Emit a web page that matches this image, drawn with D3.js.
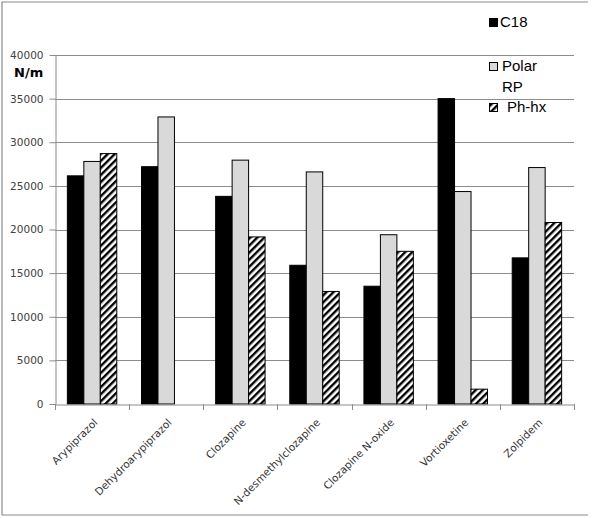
<!DOCTYPE html>
<html>
<head>
<meta charset="utf-8">
<title>N/m by compound and column</title>
<script src="https://cdnjs.cloudflare.com/ajax/libs/d3/7.8.5/d3.min.js"></script>
<style>
  body { margin: 0; background: #fff; }
  svg { display: block; }
</style>
</head>
<body>
<script>
// chart data
var categories = ["Arypiprazol", "Dehydroarypiprazol", "Clozapine", "N-desmethylclozapine",
                  "Clozapine N-oxide", "Vortioxetine", "Zolpidem"];
var seriesNames = ["C18", "Polar RP", "Ph-hx"];
var c18     = [26150, 27200, 23800, 15900, 13500, 35000, 16750];
var polarRP = [27800, 32900, 27950, 26600, 19400, 24350, 27100];
var phHx    = [28700, null, 19150, 12900, 17500, 1700, 20800];
var yTicks  = [0, 5000, 10000, 15000, 20000, 25000, 30000, 35000, 40000];

var w = 598, h = 518;
var plotLeft = 55, plotRight = 574, plotTop = 55, plotBottom = 404;

var svg = d3.select("body").append("svg")
  .attr("width", w)
  .attr("height", h);

// hatch pattern for Ph-hx
var defs = svg.append("defs");
var pat = defs.append("pattern")
  .attr("id", "hatch")
  .attr("patternUnits", "userSpaceOnUse")
  .attr("width", 5)
  .attr("height", 5)
  .attr("patternTransform", "rotate(45)");
pat.append("rect").attr("width", 5).attr("height", 5).attr("fill", "#fff");
pat.append("rect").attr("x", 0).attr("width", 2.4).attr("height", 5).attr("fill", "#000");

// outer frame (right side is cut off in the original)
svg.append("path")
  .attr("d", "M588,2H2V515H588")
  .attr("fill", "none")
  .attr("stroke", "#8a8a8a")
  .attr("stroke-width", 1.2);

var x = d3.scaleBand()
  .domain(categories)
  .range([plotLeft, plotRight]);

var bw = x.bandwidth();
var xs = d3.scaleBand()
  .domain(seriesNames)
  .range([bw / 6, bw * 5 / 6]);

var y = d3.scaleLinear()
  .domain([0, 40000])
  .range([plotBottom, plotTop]);

// gridlines
svg.append("g")
  .selectAll("line")
  .data(yTicks.slice(1))
  .enter()
  .append("line")
  .attr("x1", plotLeft)
  .attr("x2", plotRight)
  .attr("y1", function(d) { return Math.round(y(d)) + 0.5; })
  .attr("y2", function(d) { return Math.round(y(d)) + 0.5; })
  .attr("stroke", "#8c8c8c")
  .attr("stroke-width", 1);

// y axis
var yAxis = svg.append("g")
  .attr("transform", "translate(" + (plotLeft + 0.5) + ",0)")
  .call(d3.axisLeft(y).tickValues(yTicks).tickFormat(d3.format("d"))
    .tickSize(6).tickPadding(6).tickSizeOuter(0));
yAxis.selectAll("text")
  .attr("font-family", "DejaVu Sans, sans-serif")
  .attr("font-size", "10.5px")
  .attr("fill", "#404040");
yAxis.selectAll("line, path").attr("stroke", "#8c8c8c");

svg.append("text")
  .attr("x", 14)
  .attr("y", 77)
  .attr("font-family", "DejaVu Sans, sans-serif")
  .attr("font-weight", "bold")
  .attr("font-size", "13px")
  .attr("fill", "#000")
  .text("N/m");

// bars
var fills = ["#000", "#d9d9d9", "url(#hatch)"];
var rows = [c18, polarRP, phHx];

var groups = svg.append("g")
  .selectAll("g")
  .data(categories)
  .enter()
  .append("g")
  .attr("transform", function(d) { return "translate(" + x(d) + ",0)"; });

groups.selectAll("rect")
  .data(function(d, i) {
    return seriesNames.map(function(s, j) { return { s: s, j: j, v: rows[j][i] }; })
      .filter(function(e) { return e.v != null; });
  })
  .enter()
  .append("rect")
  .attr("x", function(d) { return xs(d.s); })
  .attr("y", function(d) { return y(d.v); })
  .attr("width", xs.bandwidth())
  .attr("height", function(d) { return y(0) - y(d.v); })
  .attr("fill", function(d) { return fills[d.j]; })
  .attr("stroke", "#000")
  .attr("stroke-width", 1);

// x axis
var xAxis = svg.append("g")
  .attr("transform", "translate(0," + (plotBottom + 0.5) + ")")
  .call(d3.axisBottom(x).tickSize(0).tickSizeOuter(0));
xAxis.select("path").attr("stroke", "#8c8c8c");
xAxis.selectAll(".tick text").remove();

// category tick marks between groups
svg.append("g")
  .selectAll("line")
  .data(d3.range(categories.length + 1))
  .enter()
  .append("line")
  .attr("x1", function(i) { return Math.round(plotLeft + i * bw) + 0.5; })
  .attr("x2", function(i) { return Math.round(plotLeft + i * bw) + 0.5; })
  .attr("y1", plotBottom)
  .attr("y2", plotBottom + 6)
  .attr("stroke", "#8c8c8c");

svg.append("g")
  .selectAll("text")
  .data(categories)
  .enter()
  .append("text")
  .attr("transform", function(d) {
    return "translate(" + (x(d) + bw / 2 + 1) + "," + (plotBottom + 14) + ") rotate(-45)";
  })
  .attr("text-anchor", "end")
  .attr("dy", "0.7em")
  .attr("font-family", "DejaVu Sans, sans-serif")
  .attr("font-size", "10.5px")
  .attr("fill", "#333")
  .text(function(d) { return d; });

// legend
var lg = svg.append("g")
  .attr("font-family", "Liberation Sans, Arial, sans-serif")
  .attr("font-size", "15px")
  .attr("fill", "#000");

var legendItems = [
  { fill: "#000", sy: 18, lines: ["C18"], ty: 27, tx: 500 },
  { fill: "#d9d9d9", sy: 62, lines: ["Polar", "RP"], ty: 71, tx: 502 },
  { fill: "url(#hatch)", sy: 103, lines: ["Ph-hx"], ty: 112, tx: 507 }
];

legendItems.forEach(function(it) {
  lg.append("rect")
    .attr("x", 489.5)
    .attr("y", it.sy + 0.5)
    .attr("width", 8)
    .attr("height", 8)
    .attr("fill", it.fill)
    .attr("stroke", "#000")
    .attr("stroke-width", 1);
  it.lines.forEach(function(t, k) {
    lg.append("text")
      .attr("x", it.tx)
      .attr("y", it.ty + k * 21)
      .text(t);
  });
});
</script>
</body>
</html>
